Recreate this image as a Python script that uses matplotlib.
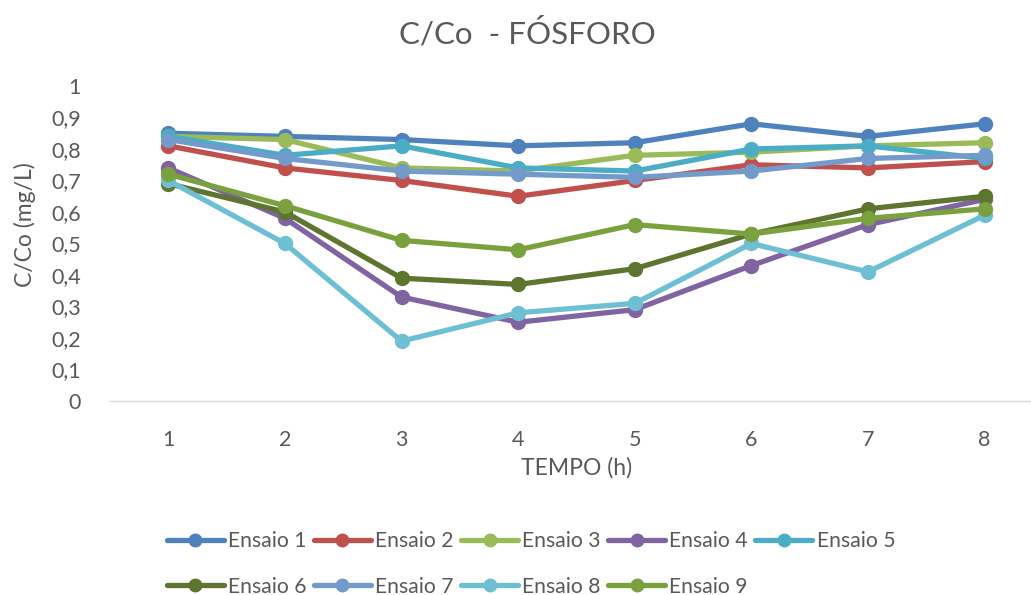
import numpy as np
import matplotlib.pyplot as plt
from matplotlib.ticker import FuncFormatter

plt.rcParams['font.family'] = ['Lato', 'DejaVu Sans']

tempo = [1, 2, 3, 4, 5, 6, 7, 8]
ensaio1 = [0.85, 0.84, 0.83, 0.81, 0.82, 0.88, 0.84, 0.88]
ensaio2 = [0.81, 0.74, 0.70, 0.65, 0.70, 0.75, 0.74, 0.76]
ensaio3 = [0.84, 0.83, 0.74, 0.73, 0.78, 0.79, 0.81, 0.82]
ensaio4 = [0.74, 0.58, 0.33, 0.25, 0.29, 0.43, 0.56, 0.64]
ensaio5 = [0.84, 0.78, 0.81, 0.74, 0.73, 0.80, 0.81, 0.77]
ensaio6 = [0.69, 0.60, 0.39, 0.37, 0.42, 0.53, 0.61, 0.65]
ensaio7 = [0.83, 0.77, 0.73, 0.72, 0.71, 0.73, 0.77, 0.78]
ensaio8 = [0.70, 0.50, 0.19, 0.28, 0.31, 0.50, 0.41, 0.59]
ensaio9 = [0.72, 0.62, 0.51, 0.48, 0.56, 0.53, 0.58, 0.61]

series = [ensaio1, ensaio2, ensaio3, ensaio4, ensaio5,
          ensaio6, ensaio7, ensaio8, ensaio9]
nomes = ['Ensaio %d' % i for i in range(1, 10)]
cores = ['#4F81BD', '#C0504D', '#9BBB59', '#8064A2', '#4BACC6',
         '#5E7530', '#729ACA', '#6EBFD3', '#7BA03E']

cinza = '#595959'

fig = plt.figure(figsize=(10.31, 5.95), dpi=100)
ax = fig.add_axes([110 / 1031, 194 / 595, 933 / 1031, 315 / 595])

linhas = []
for y, nome, cor in zip(series, nomes, cores):
    l, = ax.plot(tempo, y, color=cor, lw=3.8, marker='o', ms=10,
                 label=nome, solid_capstyle='round')
    linhas.append(l)

ax.set_xlim(0.5, 8.5)
ax.set_ylim(0, 1)
ax.set_xticks(tempo)
ax.set_yticks(np.arange(0, 1.01, 0.1))
ax.yaxis.set_major_formatter(
    FuncFormatter(lambda v, p: ('%g' % round(v, 1)).replace('.', ',')))
ax.tick_params(length=0, labelsize=15.5, colors=cinza)
ax.tick_params(axis='x', pad=21)
ax.tick_params(axis='y', pad=21)

for s in ['top', 'right', 'left']:
    ax.spines[s].set_visible(False)
ax.spines['bottom'].set_color('#D9D9D9')
ax.spines['bottom'].set_linewidth(1)

fig.text(527 / 1031, 1 - 33 / 595, 'C/Co  - FÓSFORO', ha='center',
         va='center', fontsize=22.5, color=cinza)
fig.text(25 / 1031, 1 - 225 / 595, 'C/Co (mg/L)', rotation=90,
         ha='center', va='center', fontsize=16.5, color=cinza)
fig.text(577 / 1031, 1 - 468 / 595, 'TEMPO (h)', ha='center',
         va='center', fontsize=16.5, color=cinza)

# legenda preenchida por linhas (5 + 4)
ordem = [0, 5, 1, 6, 2, 7, 3, 8, 4]
leg = fig.legend([linhas[i] for i in ordem], [nomes[i] for i in ordem],
                 ncol=5, loc='center', bbox_to_anchor=(531 / 1031, 1 - 564 / 595),
                 frameon=False, fontsize=15.2, handlelength=2.7,
                 handletextpad=0.2, columnspacing=0.35, labelspacing=1.2,
                 markerscale=0.9)
for t in leg.get_texts():
    t.set_color(cinza)

fig.savefig('out.png', dpi=100)
